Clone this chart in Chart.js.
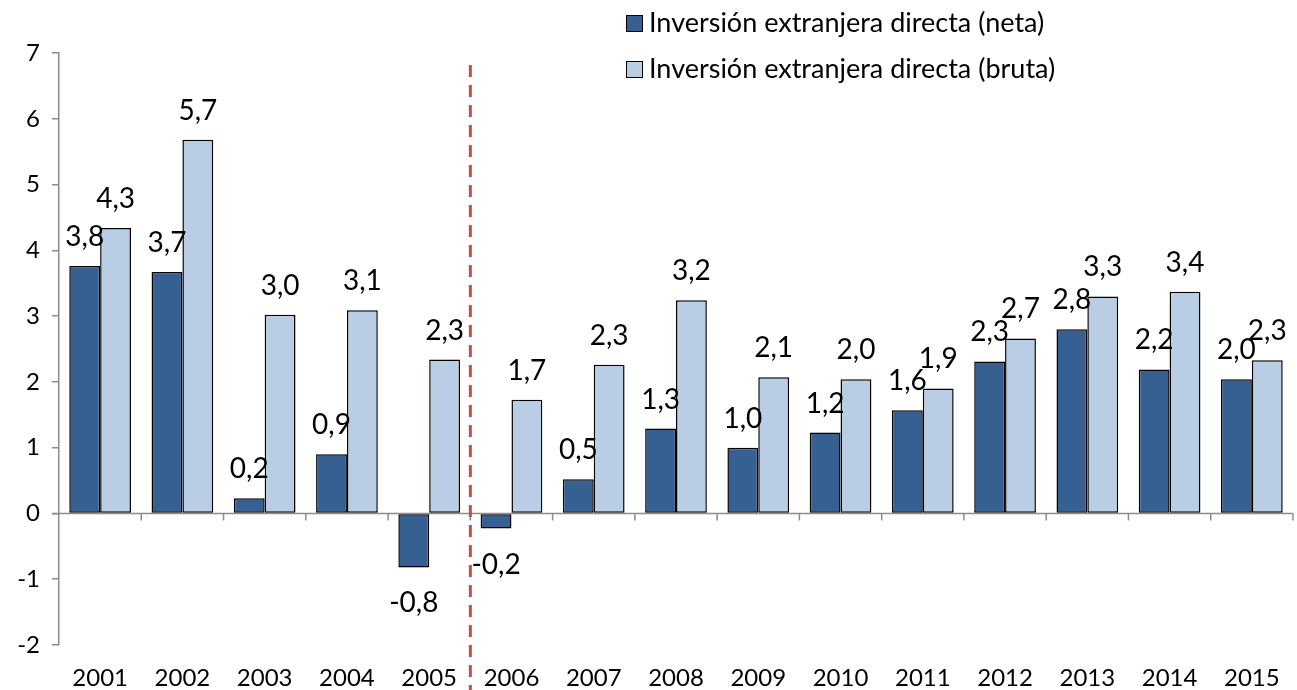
<!DOCTYPE html>
<html>
<head>
<meta charset="utf-8">
<script src="https://cdn.jsdelivr.net/npm/chart.js@4"></script>
<style>
  html, body { margin: 0; padding: 0; background: #fff; }
  #wrap { position: relative; width: 1297px; height: 690px; }
  #legend { position: absolute; left: 626px; top: 5px; font-family: Lato, sans-serif; font-size: 27px; color: #000; }
  #legend div { height: 46px; line-height: 34px; white-space: nowrap; }
  #legend span.box { display: inline-block; width: 15px; height: 15px; border: 1.5px solid #000; margin-right: 6px; vertical-align: 0px; }
</style>
</head>
<body>
<div id="wrap">
  <canvas id="chart" width="1297" height="690"></canvas>
  <div id="legend"></div>
</div>
<script>
// datos
const years = ['2001', '2002', '2003', '2004', '2005', '2006', '2007', '2008', '2009', '2010', '2011', '2012', '2013', '2014', '2015'];
const neta = [3.76, 3.67, 0.23, 0.9, -0.82, -0.23, 0.52, 1.29, 1.0, 1.23, 1.57, 2.31, 2.8, 2.19, 2.04];
const bruta = [4.34, 5.68, 3.02, 3.09, 2.34, 1.73, 2.26, 3.24, 2.07, 2.04, 1.9, 2.66, 3.3, 3.37, 2.33];
const seriesNames = ['Inversión extranjera directa (neta)', 'Inversión extranjera directa (bruta)'];
const colors = ['#376092', '#B9CDE5'];

// leyenda html
const legendEl = document.getElementById('legend');
seriesNames.forEach((name, i) => {
    const row = document.createElement('div');
    row.innerHTML = '<span class="box" style="background:' + colors[i] + '"></span>' + name;
    legendEl.appendChild(row);
});

const fmt = v => v.toFixed(1).replace('.', ',');

// etiquetas de datos
const labelPlugin = {
    id: 'barLabels',
    afterDatasetsDraw(chart) {
        const c = chart.ctx;
        c.save();
        c.font = '28px Lato';
        c.fillStyle = '#000';
        c.textAlign = 'center';
        c.textBaseline = 'alphabetic';
        chart.data.datasets.forEach((ds, di) => {
            chart.getDatasetMeta(di).data.forEach((bar, i) => {
                const v = ds.data[i];
                const y = v >= 0 ? bar.y - 20 : bar.y + 45;
                c.fillText(fmt(v), bar.x, y);
            });
        });
        c.restore();
    }
};

// eje cero, marcas y línea roja discontinua
const axisPlugin = {
    id: 'zeroAxis',
    beforeDatasetsDraw(chart) {
        const c = chart.ctx;
        const xs = chart.scales.x;
        const y0 = chart.scales.y.getPixelForValue(0);
        c.save();
        c.strokeStyle = '#8c8c8c';
        c.lineWidth = 1.5;
        c.beginPath();
        c.moveTo(chart.chartArea.left - 7, y0);
        c.lineTo(chart.chartArea.right, y0);
        const step = xs.getPixelForValue(1) - xs.getPixelForValue(0);
        for (let i = 1; i <= years.length; i++) {
            const x = xs.getPixelForValue(i) - step / 2;
            c.moveTo(x, y0);
            c.lineTo(x, y0 + 7);
        }
        c.stroke();
        c.restore();
    },
    afterDatasetsDraw(chart) {
        const c = chart.ctx;
        const xs = chart.scales.x;
        const x = (xs.getPixelForValue(4) + xs.getPixelForValue(5)) / 2;
        c.save();
        c.strokeStyle = '#C0504D';
        c.lineWidth = 3;
        c.setLineDash([12, 8]);
        c.beginPath();
        c.moveTo(x, 65);
        c.lineTo(x, 690);
        c.stroke();
        c.restore();
    }
};

const ctx = document.getElementById('chart').getContext('2d');
const chart = new Chart(ctx, {
    type: 'bar',
    data: {
        labels: years,
        datasets: [
            { label: seriesNames[0], data: neta, backgroundColor: colors[0], borderColor: '#000', borderWidth: 1.5, borderSkipped: false },
            { label: seriesNames[1], data: bruta, backgroundColor: colors[1], borderColor: '#000', borderWidth: 1.5, borderSkipped: false }
        ]
    },
    options: {
        responsive: false,
        animation: false,
        events: [],
        layout: { padding: { left: 0, right: 4, top: 53, bottom: 0 } },
        datasets: { bar: { categoryPercentage: 0.75, barPercentage: 1 } },
        scales: {
            x: {
                grid: { display: false },
                border: { display: false },
                ticks: { color: '#000', font: { family: 'Lato', size: 24 }, padding: 11, maxRotation: 0 },
                afterFit(s) { s.height = 45; }
            },
            y: {
                min: -2,
                max: 7,
                ticks: { stepSize: 1, color: '#000', font: { family: 'Lato', size: 24 }, padding: 12 },
                grid: { drawOnChartArea: false, drawTicks: true, tickLength: 7, color: '#8c8c8c', lineWidth: 1.5 },
                border: { display: true, color: '#8c8c8c', width: 1.5 },
                afterFit(s) { s.width = 59; }
            }
        },
        plugins: {
            legend: { display: false },
            tooltip: { enabled: false }
        }
    },
    plugins: [axisPlugin, labelPlugin]
});
</script>
</body>
</html>
